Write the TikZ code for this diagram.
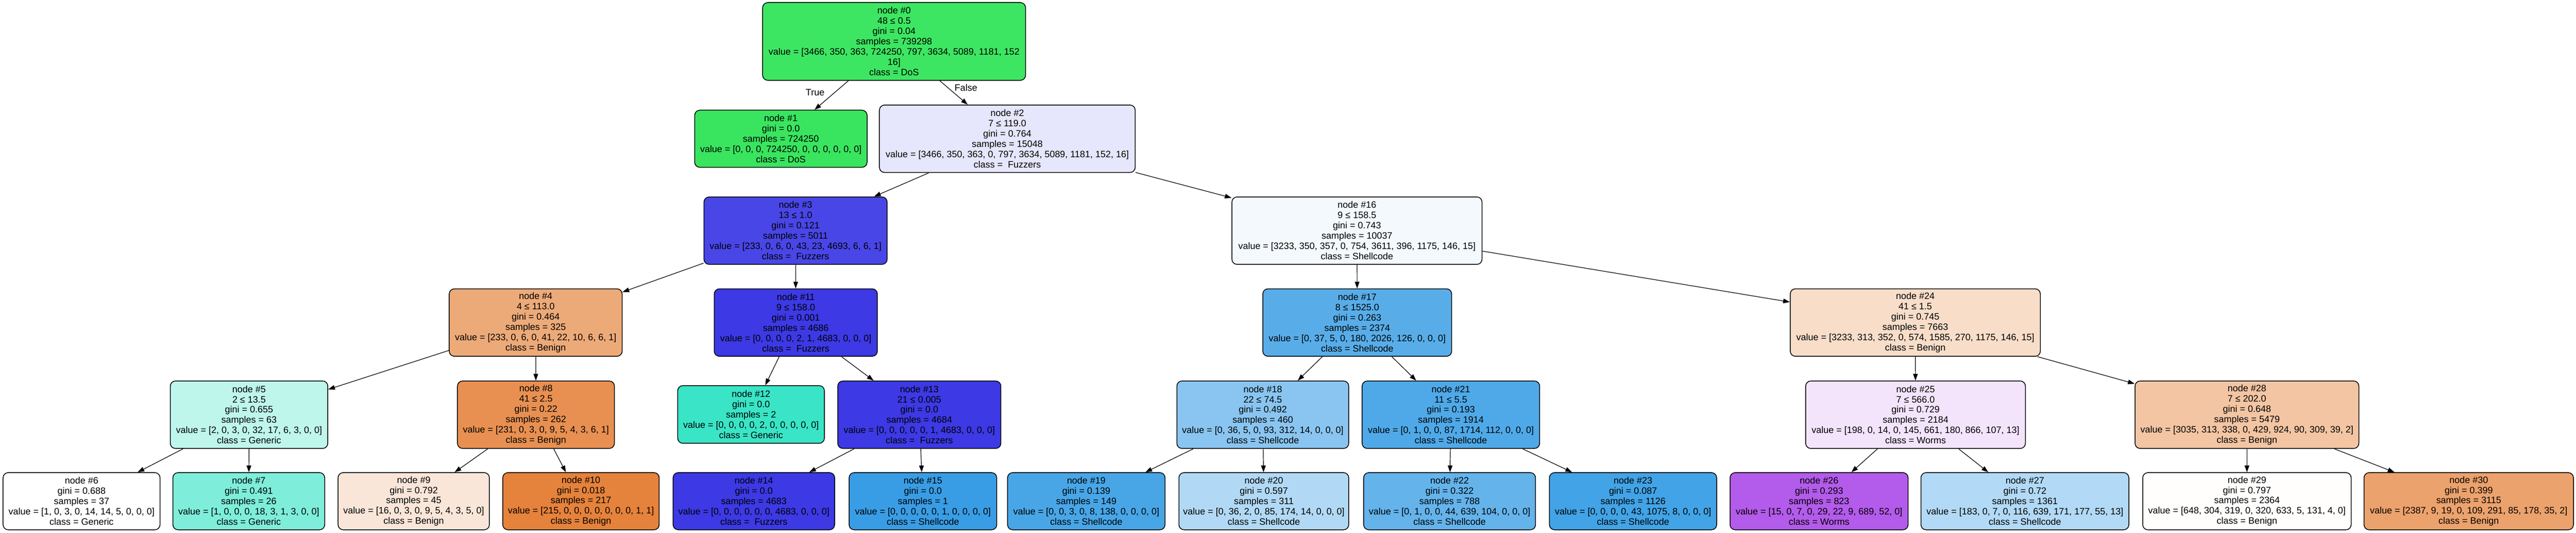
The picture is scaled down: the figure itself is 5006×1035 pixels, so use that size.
\documentclass[tikz,border=0pt]{standalone}
\usepackage{fontspec}
\setmainfont{Liberation Sans}
\usetikzlibrary{arrows.meta}
\definecolor{c0}{HTML}{3DE662}
\definecolor{c1}{HTML}{39E55F}
\definecolor{c2}{HTML}{E6E6FC}
\definecolor{c3}{HTML}{4946E7}
\definecolor{c4}{HTML}{EDAA79}
\definecolor{c5}{HTML}{BEF6EC}
\definecolor{c6}{HTML}{FFFFFF}
\definecolor{c7}{HTML}{7EEEDA}
\definecolor{c8}{HTML}{E89051}
\definecolor{c9}{HTML}{FAE6D9}
\definecolor{c10}{HTML}{E5823B}
\definecolor{c11}{HTML}{3C39E5}
\definecolor{c12}{HTML}{39E5C6}
\definecolor{c13}{HTML}{3C39E5}
\definecolor{c14}{HTML}{3C39E5}
\definecolor{c15}{HTML}{399DE5}
\definecolor{c16}{HTML}{F4F9FE}
\definecolor{c17}{HTML}{58ADE9}
\definecolor{c18}{HTML}{89C5F0}
\definecolor{c19}{HTML}{48A6E7}
\definecolor{c20}{HTML}{B1D9F5}
\definecolor{c21}{HTML}{4FA9E8}
\definecolor{c22}{HTML}{64B3EB}
\definecolor{c23}{HTML}{42A3E6}
\definecolor{c24}{HTML}{F8DDC9}
\definecolor{c25}{HTML}{F3E4FC}
\definecolor{c26}{HTML}{B35BEA}
\definecolor{c27}{HTML}{B2D9F5}
\definecolor{c28}{HTML}{F3C5A3}
\definecolor{c29}{HTML}{FFFEFD}
\definecolor{c30}{HTML}{ECA26C}
\tikzset{
  tn/.style={draw=black, line width=1.5pt, rounded corners=10pt, inner sep=0pt,
    align=center, font=\fontsize{18}{20}\selectfont},
  edge/.style={-{Triangle[length=13pt,width=9pt]}, line width=1.2pt},
  elabel/.style={font=\fontsize{18}{20}\selectfont, inner sep=0pt}
}
\begin{document}
\begin{tikzpicture}[x=1pt,y=-1pt]
\useasboundingbox[fill=white] (0,0) rectangle (5006,1035);
% level 0
\node[tn, fill=c0, minimum width=511pt, minimum height=151pt] (n0) at (1737.5,80.5)
  {node \#0\\48 ≤ 0.5\\gini = 0.04\\samples = 739298\\value = [3466, 350, 363, 724250, 797, 3634, 5089, 1181, 152\\16]\\class = DoS};
% level 1
\node[tn, fill=c1, minimum width=335pt, minimum height=111pt] (n1) at (1517.5,269.5)
  {node \#1\\gini = 0.0\\samples = 724250\\value = [0, 0, 0, 724250, 0, 0, 0, 0, 0, 0]\\class = DoS};
\node[tn, fill=c2, minimum width=497pt, minimum height=131pt] (n2) at (1957.5,269.5)
  {node \#2\\7 ≤ 119.0\\gini = 0.764\\samples = 15048\\value = [3466, 350, 363, 0, 797, 3634, 5089, 1181, 152, 16]\\class = \ Fuzzers};
% level 2
\node[tn, fill=c3, minimum width=356pt, minimum height=131pt] (n3) at (1546,448)
  {node \#3\\13 ≤ 1.0\\gini = 0.121\\samples = 5011\\value = [233, 0, 6, 0, 43, 23, 4693, 6, 6, 1]\\class = \ Fuzzers};
\node[tn, fill=c16, minimum width=486pt, minimum height=131pt] (n16) at (2637,448)
  {node \#16\\9 ≤ 158.5\\gini = 0.743\\samples = 10037\\value = [3233, 350, 357, 0, 754, 3611, 396, 1175, 146, 15]\\class = Shellcode};
% level 3
\node[tn, fill=c4, minimum width=336pt, minimum height=131pt] (n4) at (1041,626.5)
  {node \#4\\4 ≤ 113.0\\gini = 0.464\\samples = 325\\value = [233, 0, 6, 0, 41, 22, 10, 6, 6, 1]\\class = Benign};
\node[tn, fill=c11, minimum width=317pt, minimum height=131pt] (n11) at (1546.5,626.5)
  {node \#11\\9 ≤ 158.0\\gini = 0.001\\samples = 4686\\value = [0, 0, 0, 0, 2, 1, 4683, 0, 0, 0]\\class = \ Fuzzers};
\node[tn, fill=c17, minimum width=367pt, minimum height=131pt] (n17) at (2637.5,626.5)
  {node \#17\\8 ≤ 1525.0\\gini = 0.263\\samples = 2374\\value = [0, 37, 5, 0, 180, 2026, 126, 0, 0, 0]\\class = Shellcode};
\node[tn, fill=c24, minimum width=486pt, minimum height=131pt] (n24) at (3722,626.5)
  {node \#24\\41 ≤ 1.5\\gini = 0.745\\samples = 7663\\value = [3233, 313, 352, 0, 574, 1585, 270, 1175, 146, 15]\\class = Benign};
% level 4
\node[tn, fill=c5, minimum width=306pt, minimum height=131pt] (n5) at (484,805.5)
  {node \#5\\2 ≤ 13.5\\gini = 0.655\\samples = 63\\value = [2, 0, 3, 0, 32, 17, 6, 3, 0, 0]\\class = Generic};
\node[tn, fill=c8, minimum width=305pt, minimum height=131pt] (n8) at (1041.5,805.5)
  {node \#8\\41 ≤ 2.5\\gini = 0.22\\samples = 262\\value = [231, 0, 3, 0, 9, 5, 4, 3, 6, 1]\\class = Benign};
\node[tn, fill=c12, minimum width=285pt, minimum height=112pt] (n12) at (1459.5,805)
  {node \#12\\gini = 0.0\\samples = 2\\value = [0, 0, 0, 0, 2, 0, 0, 0, 0, 0]\\class = Generic};
\node[tn, fill=c13, minimum width=317pt, minimum height=131pt] (n13) at (1786.5,805.5)
  {node \#13\\21 ≤ 0.005\\gini = 0.0\\samples = 4684\\value = [0, 0, 0, 0, 0, 1, 4683, 0, 0, 0]\\class = \ Fuzzers};
\node[tn, fill=c18, minimum width=334pt, minimum height=131pt] (n18) at (2454,805.5)
  {node \#18\\22 ≤ 74.5\\gini = 0.492\\samples = 460\\value = [0, 36, 5, 0, 93, 312, 14, 0, 0, 0]\\class = Shellcode};
\node[tn, fill=c21, minimum width=345pt, minimum height=131pt] (n21) at (2819.5,805.5)
  {node \#21\\11 ≤ 5.5\\gini = 0.193\\samples = 1914\\value = [0, 1, 0, 0, 87, 1714, 112, 0, 0, 0]\\class = Shellcode};
\node[tn, fill=c25, minimum width=427pt, minimum height=131pt] (n25) at (3722.5,805.5)
  {node \#25\\7 ≤ 566.0\\gini = 0.729\\samples = 2184\\value = [198, 0, 14, 0, 145, 661, 180, 866, 107, 13]\\class = Worms};
\node[tn, fill=c28, minimum width=435pt, minimum height=131pt] (n28) at (4366.5,805.5)
  {node \#28\\7 ≤ 202.0\\gini = 0.648\\samples = 5479\\value = [3035, 313, 338, 0, 429, 924, 90, 309, 39, 2]\\class = Benign};
% level 5
\node[tn, fill=c6, minimum width=305pt, minimum height=111pt] (n6) at (158.5,973.5)
  {node \#6\\gini = 0.688\\samples = 37\\value = [1, 0, 3, 0, 14, 14, 5, 0, 0, 0]\\class = Generic};
\node[tn, fill=c7, minimum width=295pt, minimum height=111pt] (n7) at (483.5,973.5)
  {node \#7\\gini = 0.491\\samples = 26\\value = [1, 0, 0, 0, 18, 3, 1, 3, 0, 0]\\class = Generic};
\node[tn, fill=c9, minimum width=294pt, minimum height=111pt] (n9) at (804,973.5)
  {node \#9\\gini = 0.792\\samples = 45\\value = [16, 0, 3, 0, 9, 5, 4, 3, 5, 0]\\class = Benign};
\node[tn, fill=c10, minimum width=304pt, minimum height=111pt] (n10) at (1129,973.5)
  {node \#10\\gini = 0.018\\samples = 217\\value = [215, 0, 0, 0, 0, 0, 0, 0, 1, 1]\\class = Benign};
\node[tn, fill=c14, minimum width=314pt, minimum height=111pt] (n14) at (1465,973.5)
  {node \#14\\gini = 0.0\\samples = 4683\\value = [0, 0, 0, 0, 0, 0, 4683, 0, 0, 0]\\class = \ Fuzzers};
\node[tn, fill=c15, minimum width=287pt, minimum height=111pt] (n15) at (1793.5,973.5)
  {node \#15\\gini = 0.0\\samples = 1\\value = [0, 0, 0, 0, 0, 1, 0, 0, 0, 0]\\class = Shellcode};
\node[tn, fill=c19, minimum width=306pt, minimum height=111pt] (n19) at (2111,973.5)
  {node \#19\\gini = 0.139\\samples = 149\\value = [0, 0, 3, 0, 8, 138, 0, 0, 0, 0]\\class = Shellcode};
\node[tn, fill=c20, minimum width=330pt, minimum height=111pt] (n20) at (2456,973.5)
  {node \#20\\gini = 0.597\\samples = 311\\value = [0, 36, 2, 0, 85, 174, 14, 0, 0, 0]\\class = Shellcode};
\node[tn, fill=c22, minimum width=334pt, minimum height=111pt] (n22) at (2817,973.5)
  {node \#22\\gini = 0.322\\samples = 788\\value = [0, 1, 0, 0, 44, 639, 104, 0, 0, 0]\\class = Shellcode};
\node[tn, fill=c23, minimum width=325pt, minimum height=111pt] (n23) at (3173.5,973.5)
  {node \#23\\gini = 0.087\\samples = 1126\\value = [0, 0, 0, 0, 43, 1075, 8, 0, 0, 0]\\class = Shellcode};
\node[tn, fill=c26, minimum width=346pt, minimum height=111pt] (n26) at (3535,973.5)
  {node \#26\\gini = 0.293\\samples = 823\\value = [15, 0, 7, 0, 29, 22, 9, 689, 52, 0]\\class = Worms};
\node[tn, fill=c27, minimum width=404pt, minimum height=111pt] (n27) at (3935,973.5)
  {node \#27\\gini = 0.72\\samples = 1361\\value = [183, 0, 7, 0, 116, 639, 171, 177, 55, 13]\\class = Shellcode};
\node[tn, fill=c29, minimum width=405pt, minimum height=111pt] (n29) at (4366.5,973.5)
  {node \#29\\gini = 0.797\\samples = 2364\\value = [648, 304, 319, 0, 320, 633, 5, 131, 4, 0]\\class = Benign};
\node[tn, fill=c30, minimum width=407pt, minimum height=111pt] (n30) at (4797.5,973.5)
  {node \#30\\gini = 0.399\\samples = 3115\\value = [2387, 9, 19, 0, 109, 291, 85, 178, 35, 2]\\class = Benign};
% edges
\draw[edge] (n0) -- (n1);
\draw[edge] (n0) -- (n2);
\draw[edge] (n2) -- (n3);
\draw[edge] (n2) -- (n16);
\draw[edge] (n3) -- (n4);
\draw[edge] (n3) -- (n11);
\draw[edge] (n4) -- (n5);
\draw[edge] (n4) -- (n8);
\draw[edge] (n5) -- (n6);
\draw[edge] (n5) -- (n7);
\draw[edge] (n8) -- (n9);
\draw[edge] (n8) -- (n10);
\draw[edge] (n11) -- (n12);
\draw[edge] (n11) -- (n13);
\draw[edge] (n13) -- (n14);
\draw[edge] (n13) -- (n15);
\draw[edge] (n16) -- (n17);
\draw[edge] (n16) -- (n24);
\draw[edge] (n17) -- (n18);
\draw[edge] (n17) -- (n21);
\draw[edge] (n18) -- (n19);
\draw[edge] (n18) -- (n20);
\draw[edge] (n21) -- (n22);
\draw[edge] (n21) -- (n23);
\draw[edge] (n24) -- (n25);
\draw[edge] (n24) -- (n28);
\draw[edge] (n25) -- (n26);
\draw[edge] (n25) -- (n27);
\draw[edge] (n28) -- (n29);
\draw[edge] (n28) -- (n30);
% edge labels
\node[elabel] (lt) at (1584,180) {True};
\node[elabel] (lf) at (1877,170) {False};
\end{tikzpicture}
\end{document}
